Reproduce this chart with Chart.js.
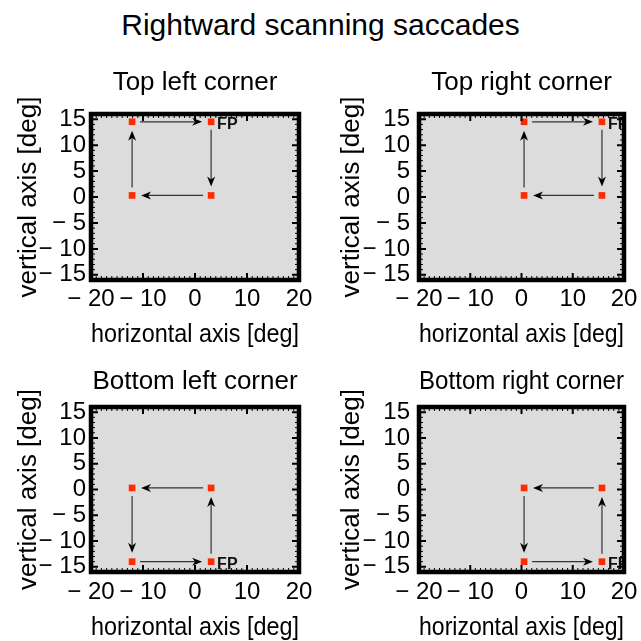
<!DOCTYPE html>
<html lang="en">
<head>
    <meta charset="UTF-8">
    <title>Rightward scanning saccades</title>
    <script src="https://cdn.jsdelivr.net/npm/chart.js"></script>
    <style>

body {
    margin: 0;
    background: #fff;
    overflow: hidden;
    font-family: 'Liberation Sans', Arial, sans-serif;
}

h1 {
    position: absolute;
    left: 0;
    top: 0;
    width: 641px;
    height: 50px;
    margin: 0;
    line-height: 50px;
    font-size: 30px;
    font-weight: normal;
    text-align: center;
    color: #000;
}

canvas {
    position: absolute;
}

    </style>
</head>
<body>
    <h1>Rightward scanning saccades</h1>
    <canvas id="tl" width="320" height="290" style="left:0;top:60px"></canvas>
    <canvas id="tr" width="321" height="290" style="left:320px;top:60px"></canvas>
    <canvas id="bl" width="320" height="289" style="left:0;top:352px"></canvas>
    <canvas id="br" width="321" height="289" style="left:320px;top:352px"></canvas>
    <script>
        // fixation points, in scan order, the first one is the fixation point (FP)
        const titles = ['Top left corner', 'Top right corner', 'Bottom left corner', 'Bottom right corner'];
        const scanX = [
            [3.1, 3.1, -12.1, -12.1],
            [15.7, 15.7, 0.5, 0.5],
            [3.1, 3.1, -12.1, -12.1],
            [15.7, 15.7, 0.5, 0.5]
        ];
        const scanY = [
            [14.5, 0.3, 0.3, 14.5],
            [14.5, 0.3, 0.3, 14.5],
            [-14, 0.3, 0.3, -14],
            [-14, 0.3, 0.3, -14]
        ];
        const xTicks = [-20, -10, 0, 10, 20];
        const yTicks = [-15, -10, -5, 0, 5, 10, 15];
        const fpLabel = 'FP';

        const FONT = "'Liberation Sans', Arial, sans-serif";
        const fmt = v => v < 0 ? '\u2212 ' + Math.abs(v) : String(v);

        // pixel layout of each panel
        const panels = [
            { id: 'tl', yw: 91, xh: 70, right: 21, tTop: 10, tBot: 18, yTitle: 16, yPad: 5, xPad: 7, xTitle: 2 },
            { id: 'tr', yw: 99, xh: 70, right: 17, tTop: 10, tBot: 18, yTitle: 19, yPad: 9, xPad: 7, xTitle: 2 },
            { id: 'bl', yw: 91, xh: 69, right: 21, tTop: 17, tBot: 12, yTitle: 16, yPad: 5, xPad: 8, xTitle: 0 },
            { id: 'br', yw: 99, xh: 69, right: 17, tTop: 17, tBot: 12, yTitle: 19, yPad: 9, xPad: 8, xTitle: 0 }
        ];

        function drawArrow(ctx, x1, y1, x2, y2) {
            const dx = x2 - x1, dy = y2 - y1;
            const len = Math.hypot(dx, dy);
            const ux = dx / len, uy = dy / len;
            const sx = x1 + ux * 8, sy = y1 + uy * 8;
            const ex = x2 - ux * 9, ey = y2 - uy * 9;
            ctx.strokeStyle = '#333';
            ctx.lineWidth = 1.2;
            ctx.beginPath();
            ctx.moveTo(sx, sy);
            ctx.lineTo(ex - ux * 6, ey - uy * 6);
            ctx.stroke();
            ctx.fillStyle = '#000';
            ctx.beginPath();
            ctx.moveTo(ex, ey);
            ctx.lineTo(ex - ux * 10 - uy * 4, ey - uy * 10 + ux * 4);
            ctx.lineTo(ex - ux * 7, ey - uy * 7);
            ctx.lineTo(ex - ux * 10 + uy * 4, ey - uy * 10 - ux * 4);
            ctx.closePath();
            ctx.fill();
        }

        const framePlugin = {
            id: 'frame',
            beforeDatasetsDraw(chart) {
                const { ctx, chartArea: a, scales: { x, y } } = chart;
                ctx.save();
                ctx.fillStyle = '#dcdcdc';
                ctx.fillRect(a.left, a.top, a.width, a.height);
                const pts = chart.data.datasets[0].data;
                for (let i = 0; i < pts.length; i++) {
                    const p = pts[i], q = pts[(i + 1) % pts.length];
                    drawArrow(ctx, x.getPixelForValue(p.x), y.getPixelForValue(p.y),
                        x.getPixelForValue(q.x), y.getPixelForValue(q.y));
                }
                ctx.restore();
            },
            afterDatasetsDraw(chart) {
                const { ctx, chartArea: a, scales: { x, y } } = chart;
                const fp = chart.data.datasets[0].data[0];
                ctx.save();
                ctx.beginPath();
                ctx.rect(a.left, a.top, a.width, a.height);
                ctx.clip();
                ctx.fillStyle = '#111';
                ctx.font = 'bold 16px ' + FONT;
                ctx.textBaseline = 'middle';
                ctx.fillText(fpLabel, x.getPixelForValue(fp.x) + 6, y.getPixelForValue(fp.y) + 3);
                ctx.restore();

                // inner tick marks and the heavy frame
                ctx.save();
                ctx.strokeStyle = '#000';
                for (let v = Math.ceil(x.min); v <= x.max; v++) {
                    const major = xTicks.includes(v);
                    const px = x.getPixelForValue(v), l = major ? 7 : 4;
                    ctx.lineWidth = major ? 2 : 1;
                    ctx.beginPath();
                    ctx.moveTo(px, a.top); ctx.lineTo(px, a.top + l);
                    ctx.moveTo(px, a.bottom); ctx.lineTo(px, a.bottom - l);
                    ctx.stroke();
                }
                for (let v = Math.ceil(y.min); v <= y.max; v++) {
                    const major = yTicks.includes(v);
                    const py = y.getPixelForValue(v), l = major ? 7 : 4;
                    ctx.lineWidth = major ? 2 : 1;
                    ctx.beginPath();
                    ctx.moveTo(a.left, py); ctx.lineTo(a.left + l, py);
                    ctx.moveTo(a.right, py); ctx.lineTo(a.right - l, py);
                    ctx.stroke();
                }
                ctx.lineWidth = 4.5;
                ctx.strokeRect(a.left, a.top, a.width, a.height);
                ctx.restore();
            }
        };

        panels.forEach((p, k) => {
            const pts = scanX[k].map((v, i) => ({ x: v, y: scanY[k][i] }));
            new Chart(document.getElementById(p.id), {
                type: 'scatter',
                data: {
                    datasets: [{
                        data: pts,
                        pointStyle: 'rect',
                        pointRadius: 4.7,
                        pointBorderWidth: 0,
                        backgroundColor: '#ff2a00',
                        borderColor: '#ff2a00'
                    }]
                },
                plugins: [framePlugin],
                options: {
                    responsive: false,
                    animation: false,
                    devicePixelRatio: 1,
                    layout: { padding: { left: 0, right: p.right, top: 0, bottom: 0 } },
                    plugins: {
                        legend: { display: false },
                        tooltip: { enabled: false },
                        title: {
                            display: true,
                            fullSize: false,
                            text: titles[k],
                            color: '#000',
                            font: { family: FONT, size: 26, weight: 'normal', lineHeight: 1 },
                            padding: { top: p.tTop, bottom: p.tBot }
                        }
                    },
                    scales: {
                        x: {
                            type: 'linear',
                            min: -20,
                            max: 20,
                            afterBuildTicks: s => { s.ticks = xTicks.map(v => ({ value: v })); },
                            afterFit: s => { s.height = p.xh; s.paddingLeft = 0; s.paddingRight = 0; },
                            grid: { display: false, drawTicks: false },
                            border: { display: false },
                            ticks: {
                                color: '#000',
                                font: { family: FONT, size: 24, lineHeight: 1 },
                                padding: p.xPad,
                                maxRotation: 0,
                                autoSkip: false,
                                callback: fmt
                            },
                            title: {
                                display: true,
                                text: 'horizontal axis [deg]',
                                color: '#000',
                                font: { family: FONT, size: 26, lineHeight: 1 },
                                padding: { top: 0, bottom: p.xTitle }
                            }
                        },
                        y: {
                            type: 'linear',
                            min: -16,
                            max: 16,
                            afterBuildTicks: s => { s.ticks = yTicks.map(v => ({ value: v })); },
                            afterFit: s => { s.width = p.yw; s.paddingTop = 0; s.paddingBottom = 0; },
                            grid: { display: false, drawTicks: false },
                            border: { display: false },
                            ticks: {
                                color: '#000',
                                font: { family: FONT, size: 24, lineHeight: 1 },
                                padding: p.yPad,
                                autoSkip: false,
                                callback: fmt
                            },
                            title: {
                                display: true,
                                text: 'vertical axis [deg]',
                                color: '#000',
                                font: { family: FONT, size: 26, lineHeight: 1 },
                                padding: { top: p.yTitle, bottom: 0 }
                            }
                        }
                    }
                }
            });
        });
    </script>
</body>
</html>
